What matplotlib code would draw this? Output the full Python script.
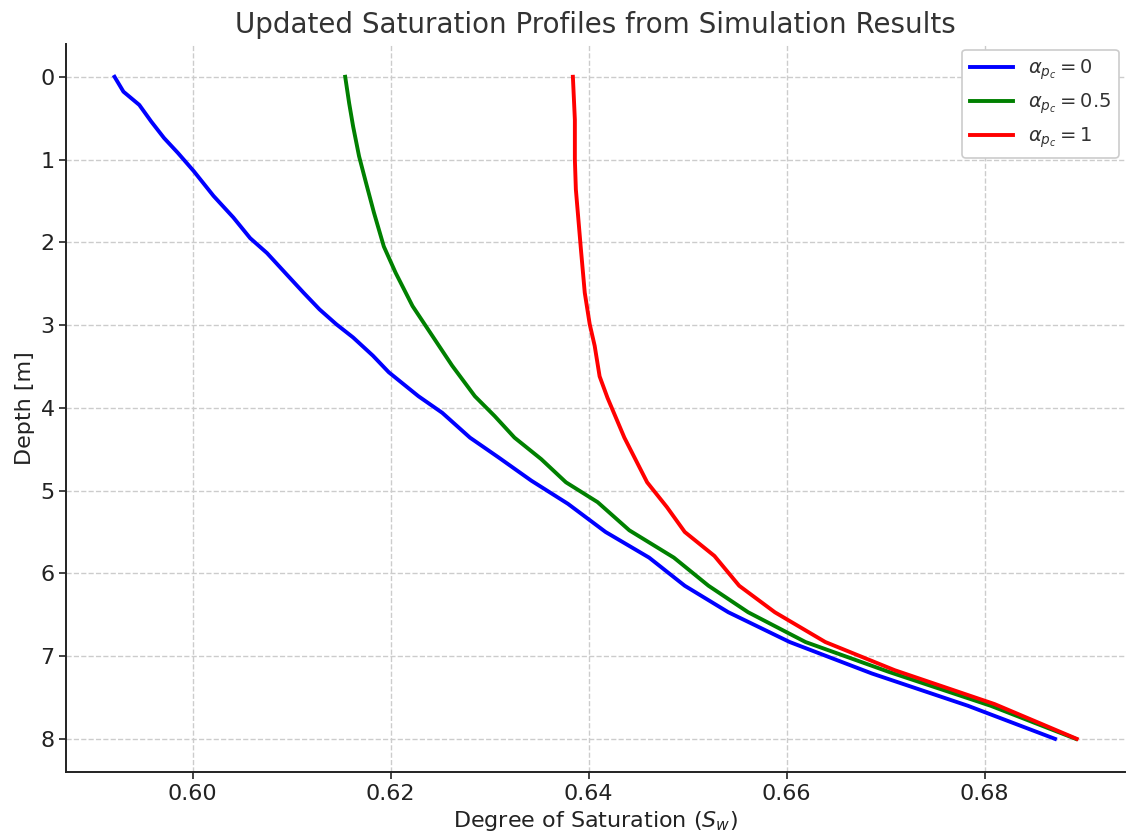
import numpy as np
import matplotlib
matplotlib.use('Agg')
import matplotlib.pyplot as plt

# Depth profiles
depth_a0 = [0, 0.18, 0.34, 0.54, 0.74, 0.92, 1.14, 1.44, 1.70, 1.95, 2.13, 2.39,
            2.61, 2.81, 2.99, 3.15, 3.37, 3.57, 3.86, 4.06, 4.36, 4.60, 4.88, 5.16,
            5.50, 5.81, 6.15, 6.47, 6.83, 7.21, 7.60, 8.0]
sw_a0 = [0.5921, 0.5930, 0.5946, 0.5958, 0.5971, 0.5985, 0.6001, 0.6021, 0.6041,
         0.6058, 0.6075, 0.6095, 0.6112, 0.6128, 0.6145, 0.6162, 0.6182, 0.6198,
         0.6228, 0.6252, 0.6280, 0.6309, 0.6342, 0.6379, 0.6417, 0.6461, 0.6497,
         0.6541, 0.6603, 0.6686, 0.6783, 0.6871]

depth_a05 = [0, 0.32, 0.60, 0.96, 1.28, 1.64, 2.05, 2.37, 2.77, 3.13, 3.49, 3.86,
             4.10, 4.36, 4.62, 4.90, 5.14, 5.48, 5.81, 6.15, 6.47, 6.83, 7.19, 7.60, 8.0]
sw_a05 = [0.6154, 0.6158, 0.6162, 0.6168, 0.6175, 0.6183, 0.6193, 0.6205, 0.6222,
          0.6242, 0.6262, 0.6285, 0.6305, 0.6325, 0.6352, 0.6377, 0.6409, 0.6441,
          0.6486, 0.6521, 0.6561, 0.6619, 0.6703, 0.6806, 0.6892]

depth_a1 = [0, 0.52, 1.0, 1.36, 2.07, 2.61, 2.99, 3.25, 3.62, 3.88, 4.36, 4.90,
            5.20, 5.50, 5.79, 6.15, 6.47, 6.83, 7.17, 7.58, 8.0]
sw_a1 = [0.6384, 0.6386, 0.6386, 0.6387, 0.6392, 0.6396, 0.6401, 0.6406, 0.6411,
         0.6419, 0.6436, 0.6459, 0.6479, 0.6497, 0.6527, 0.6552, 0.6588, 0.6639,
         0.6709, 0.6810, 0.6893]

labels = [r'$\alpha_{p_c} = 0$', r'$\alpha_{p_c} = 0.5$', r'$\alpha_{p_c} = 1$']
colors = ['blue', 'green', 'red']

fig, ax = plt.subplots(figsize=(11.26, 8.4), dpi=100)
fig.subplots_adjust(left=0.059, right=0.999, bottom=0.081, top=0.948)

for sw, d, lab, c in zip([sw_a0, sw_a05, sw_a1], [depth_a0, depth_a05, depth_a1], labels, colors):
    ax.plot(sw, d, color=c, lw=2.8, label=lab)

ax.invert_yaxis()
ax.set_xticks([0.60, 0.62, 0.64, 0.66, 0.68])
ax.set_yticks(range(0, 9))
ax.grid(True, linestyle='--', color='#cccccc', linewidth=1)
ax.set_axisbelow(True)

for s in ['top', 'right']:
    ax.spines[s].set_visible(False)
for s in ['left', 'bottom']:
    ax.spines[s].set_linewidth(1.4)
    ax.spines[s].set_color('#222222')

ax.tick_params(labelsize=16, colors='#222222', length=5, width=1.2)
ax.set_xlabel(r'Degree of Saturation ($S_w$)', fontsize=16, color='#222222')
ax.set_ylabel('Depth [m]', fontsize=16, color='#222222')
ax.set_title('Updated Saturation Profiles from Simulation Results', fontsize=20,
             color='#333333', pad=8)

leg = ax.legend(loc='upper right', fontsize=14, framealpha=1, edgecolor='#cccccc',
                handlelength=2.2, borderaxespad=0.3)
leg.get_frame().set_linewidth(1.2)
for t in leg.get_texts():
    t.set_color('#333333')

fig.savefig('out.png', dpi=100)
